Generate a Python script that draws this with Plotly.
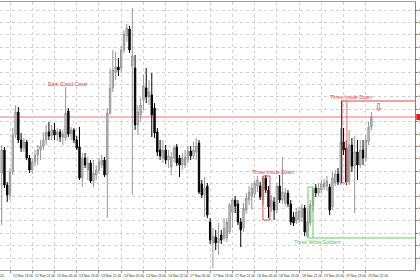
import plotly.graph_objects as go

# ---- data (XAUUSD H1, 12 Nov 10:00 .. 19 Nov 23:00) ----
opens = [4087, 4110, 4075, 4065, 4088, 4125, 4148, 4120, 4112, 4118,
         4102, 4090, 4098, 4105, 4110, 4114, 4120, 4128, 4124, 4130,
         4125, 4128, 4123, 4122, 4149, 4126, 4130, 4120, 4113, 4082,
         4102, 4090, 4097, 4079, 4085, 4090, 4095, 4100, 4085, 4147,
         4172, 4188, 4193, 4192, 4210, 4224, 4231, 4194, 4192, 4135,
         4145, 4160, 4172, 4163, 4165, 4152, 4128, 4110, 4102, 4110,
         4100, 4093, 4102, 4113, 4102, 4095, 4095, 4100, 4109, 4104,
         4108, 4117, 4076, 4065, 4074, 4038, 4017, 4023, 4017, 4025,
         4022, 4022, 4028, 4048, 4060, 4056, 4038, 4032, 4050, 4060,
         4064, 4066, 4074, 4074, 4060, 4082, 4070, 4053, 4058, 4050,
         4074, 4060, 4057, 4067, 4056, 4043, 4039, 4040, 4043, 4052,
         4024, 4037, 4054, 4072, 4067, 4070, 4073, 4074, 4073, 4053,
         4077, 4086, 4077, 4118, 4112, 4078, 4115, 4094, 4108, 4095,
         4110, 4102, 4118, 4133]
highs = [4115, 4113, 4078, 4092, 4132, 4155, 4153, 4127, 4122, 4120,
         4105, 4102, 4110, 4115, 4120, 4128, 4135, 4138, 4135, 4137,
         4132, 4131, 4130, 4173, 4152, 4133, 4132, 4124, 4133, 4107,
         4107, 4103, 4100, 4100, 4095, 4102, 4105, 4103, 4152, 4192,
         4210, 4208, 4202, 4214, 4230, 4236, 4234, 4252, 4205, 4155,
         4162, 4185, 4192, 4180, 4187, 4157, 4132, 4120, 4120, 4115,
         4110, 4108, 4115, 4116, 4105, 4107, 4110, 4114, 4114, 4118,
         4122, 4120, 4080, 4083, 4077, 4042, 4032, 4030, 4037, 4030,
         4042, 4042, 4057, 4062, 4064, 4060, 4042, 4057, 4067, 4074,
         4077, 4080, 4084, 4078, 4084, 4085, 4074, 4065, 4063, 4077,
         4085, 4103, 4072, 4070, 4060, 4048, 4052, 4053, 4056, 4055,
         4050, 4060, 4073, 4076, 4077, 4080, 4081, 4084, 4076, 4088,
         4090, 4092, 4132, 4132, 4120, 4130, 4122, 4124, 4120, 4120,
         4120, 4125, 4138, 4148]
lows = [4035, 4072, 4058, 4060, 4085, 4122, 4117, 4108, 4108, 4100,
        4087, 4086, 4094, 4095, 4100, 4110, 4115, 4120, 4120, 4120,
        4119, 4118, 4115, 4119, 4123, 4120, 4117, 4110, 4080, 4073,
        4092, 4080, 4077, 4073, 4080, 4086, 4092, 4083, 4042, 4145,
        4168, 4180, 4184, 4188, 4207, 4218, 4207, 4065, 4130, 4125,
        4138, 4150, 4157, 4155, 4123, 4122, 4104, 4100, 4097, 4096,
        4092, 4085, 4098, 4094, 4083, 4090, 4092, 4097, 4100, 4101,
        4100, 4066, 4062, 4043, 4042, 4016, 3992, 4010, 4005, 4016,
        4019, 4018, 4026, 4032, 4047, 4035, 4013, 4028, 4046, 4055,
        4050, 4062, 4068, 4060, 4055, 4067, 4042, 4048, 4040, 4047,
        4057, 4056, 4054, 4053, 4035, 4034, 4036, 4037, 4038, 4024,
        4022, 4034, 4048, 4063, 4064, 4067, 4070, 4069, 4045, 4050,
        4074, 4075, 4075, 4105, 4075, 4075, 4088, 4047, 4080, 4092,
        4095, 4098, 4115, 4130]
closes = [4110, 4075, 4065, 4088, 4125, 4148, 4120, 4112, 4118, 4102,
          4090, 4098, 4105, 4110, 4114, 4120, 4128, 4124, 4130, 4125,
          4128, 4123, 4126, 4147, 4126, 4130, 4120, 4112, 4082, 4102,
          4095, 4097, 4079, 4087, 4090, 4098, 4100, 4085, 4147, 4172,
          4190, 4193, 4190, 4210, 4226, 4232, 4210, 4204, 4135, 4148,
          4155, 4174, 4163, 4168, 4145, 4127, 4108, 4104, 4110, 4100,
          4104, 4103, 4112, 4097, 4095, 4102, 4103, 4109, 4104, 4110,
          4114, 4068, 4065, 4072, 4045, 4020, 4024, 4017, 4022, 4020,
          4032, 4038, 4055, 4060, 4054, 4038, 4030, 4052, 4062, 4068,
          4072, 4077, 4080, 4063, 4082, 4070, 4053, 4060, 4050, 4074,
          4060, 4068, 4067, 4056, 4038, 4037, 4048, 4049, 4052, 4028,
          4038, 4055, 4070, 4067, 4072, 4076, 4077, 4079, 4050, 4082,
          4086, 4078, 4118, 4110, 4078, 4115, 4094, 4108, 4095, 4110,
          4102, 4120, 4133, 4143]

tick_idx = [3, 11, 19, 27, 35, 43, 51, 59, 67, 75, 83, 91, 99, 107, 115, 123, 131]
tick_labels = ["12 Nov 13:00", "12 Nov 21:00", "13 Nov 05:00", "13 Nov 13:00",
               "13 Nov 21:00", "14 Nov 05:00", "14 Nov 13:00", "14 Nov 21:00",
               "17 Nov 05:00", "17 Nov 13:00", "17 Nov 21:00", "18 Nov 05:00",
               "18 Nov 13:00", "18 Nov 21:00", "19 Nov 05:00", "19 Nov 13:00",
               "19 Nov 21:00"]
first_label = "12 Nov 2025"
price_ticks = [4250.00, 4237.60, 4225.20, 4212.80, 4200.40, 4188.00, 4175.60,
               4163.20, 4150.80, 4138.40, 4126.00, 4113.60, 4101.20, 4088.80,
               4076.40, 4064.00, 4051.60, 4039.20, 4026.80, 4014.40, 4002.00]
bid = 4143

X0, X1 = -0.6, 148.7
Y0, Y1 = 3990, 4258

fig = go.Figure()
fig.add_trace(go.Candlestick(
    x=list(range(len(opens))), open=opens, high=highs, low=lows, close=closes,
    increasing=dict(fillcolor="#cfcfcf", line=dict(color="#959595", width=1)),
    decreasing=dict(fillcolor="#000000", line=dict(color="#000000", width=1)),
    whiskerwidth=0, hoverinfo="skip", showlegend=False,
))

lab_font = dict(family="Liberation Sans", size=5)

# bid line
fig.add_shape(type="line", xref="paper", x0=0, x1=1, y0=bid, y1=bid,
              line=dict(color="#f2a2a2", width=1.5), layer="between")
fig.add_shape(type="rect", xref="paper", x0=1.003, x1=1.03, y0=bid - 3, y1=bid + 3,
              fillcolor="#e02020", line=dict(width=0))

# Three Inside Down (right)
fig.add_shape(type="line", x0=122.3, x1=X1, y0=4159, y1=4159,
              line=dict(color="#f3a0a0", width=2))
fig.add_shape(type="rect", x0=122.3, x1=124.2, y0=4077, y1=4159,
              line=dict(color="#f08080", width=1.2))
fig.add_shape(type="line", x0=122.3, x1=122.3, y0=4077, y1=4159,
              line=dict(color="#8b2020", width=1.2))
fig.add_annotation(x=125.8, y=4163, text="Three Inside Down", showarrow=False,
                   font=dict(lab_font, color="#e03c3c"))
fig.add_annotation(x=135.4, y=4153, text="⇩", showarrow=False,
                   font=dict(family="DejaVu Sans", size=11, color="#e03c3c"))

# Three Inside Down (middle)
fig.add_shape(type="rect", x0=94.0, x1=96.5, y0=4040, y1=4084,
              line=dict(color="#e04848", width=1))
fig.add_annotation(x=97.6, y=4088, text="Three Inside Down", showarrow=False,
                   font=dict(lab_font, color="#e03c3c"))

# Three White Soldiers
fig.add_shape(type="line", x0=112.0, x1=X1, y0=4022, y1=4022,
              line=dict(color="#b2e6ae", width=2))
fig.add_shape(type="rect", x0=110.2, x1=112.0, y0=4022, y1=4073,
              line=dict(color="#66cc66", width=1))
fig.add_annotation(x=113.6, y=4018, text="Three White Soldiers", showarrow=False,
                   font=dict(lab_font, color="#55c455"))

# Dark Cloud Cover
fig.add_annotation(x=23.9, y=4176, text="Dark Cloud Cover", showarrow=False,
                   font=dict(lab_font, color="#e03c3c"))

# time labels (left-aligned at the grid line)
tfont = dict(family="Liberation Sans", size=3.4, color="#333333")
for xi, lab in zip(tick_idx, tick_labels):
    fig.add_annotation(x=xi, xref="x", y=0, yref="paper", text=lab, showarrow=False,
                       xanchor="left", yanchor="top", yshift=-2, xshift=0.5, font=tfont)
fig.add_annotation(x=1.4, xref="x", y=0, yref="paper", text=first_label, showarrow=False,
                   xanchor="right", yanchor="top", yshift=-2, font=tfont)

fig.update_layout(
    width=420, height=280,
    margin=dict(l=0, r=5, t=2, b=10, autoexpand=False),
    paper_bgcolor="white", plot_bgcolor="white",
    xaxis=dict(range=[X0, X1], tickvals=tick_idx, showticklabels=False,
               ticks="outside", ticklen=2, tickcolor="#909090",
               showgrid=True, gridcolor="#d2d2d2", griddash="dot", gridwidth=1,
               showline=True, mirror=True, linecolor="#a0a0a0", linewidth=1,
               zeroline=False, rangeslider=dict(visible=False), fixedrange=True),
    yaxis=dict(range=[Y0, Y1], side="right", tickvals=price_ticks,
               ticktext=[f"{v:.2f}" for v in price_ticks],
               ticks="outside", ticklen=2, tickcolor="#808080",
               tickfont=dict(family="Liberation Sans", size=4.5, color="#333333"),
               showgrid=True, gridcolor="#d2d2d2", griddash="dot", gridwidth=1,
               showline=True, linecolor="#808080", linewidth=1,
               zeroline=False, automargin=False, fixedrange=True),
)

fig.write_html("out.html", config={"displayModeBar": False})
